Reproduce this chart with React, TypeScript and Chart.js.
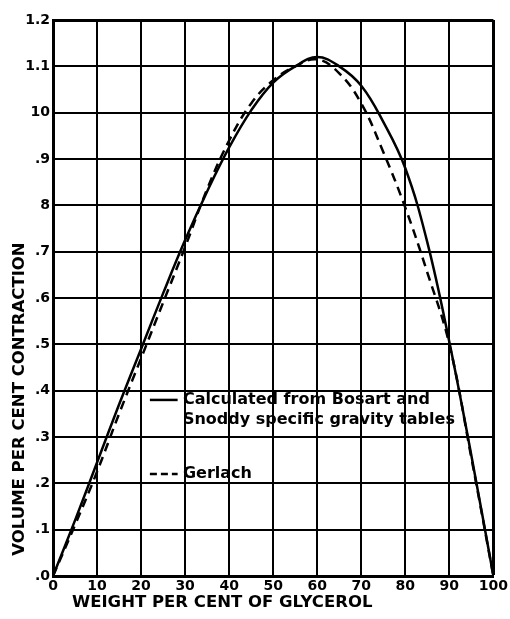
import React, { useEffect, useRef } from "react";
import { Chart, registerables } from "chart.js";

Chart.register(...registerables);

const weights = [0, 5, 10, 15, 20, 25, 30, 35, 40, 45, 50, 55, 60, 65, 70, 75, 80, 85, 90, 95, 100];
const bosartSnoddy = [0, 0.12, 0.245, 0.37, 0.49, 0.61, 0.725, 0.83, 0.925, 1.005, 1.065, 1.1, 1.12, 1.1, 1.058, 0.98, 0.88, 0.72, 0.505, 0.26, 0];
const gerlach = [0, 0.11, 0.225, 0.35, 0.47, 0.59, 0.71, 0.835, 0.94, 1.02, 1.07, 1.1, 1.115, 1.085, 1.02, 0.915, 0.795, 0.655, 0.5, 0.255, 0];

const yTickValues = [0, 0.1, 0.2, 0.3, 0.4, 0.5, 0.6, 0.7, 0.8, 0.9, 1.0, 1.1, 1.2];
const yTickLabels = [".0", ".1", ".2", ".3", ".4", ".5", ".6", ".7", "8", ".9", "10", "1.1", "1.2"];
const xTickValues = [0, 10, 20, 30, 40, 50, 60, 70, 80, 90, 100];
const xTickLabels = ["0", "10", "20", "30", "40", "50", "60", "70", "80", "90", "100"];

const xTitle = "WEIGHT PER CENT OF GLYCEROL";
const yTitle = "VOLUME PER CENT CONTRACTION";
const legendSolidLines = ["Calculated from Bosart and", "Snoddy specific gravity tables"];
const legendDashed = "Gerlach";

const FONT = "'DejaVu Sans', sans-serif";

const overlayPlugin = {
  id: "overlay",
  afterDraw(chart: any) {
    const ctx = chart.ctx;
    const xs = chart.scales.x;
    const ys = chart.scales.y;
    ctx.save();
    ctx.fillStyle = "#000";
    ctx.strokeStyle = "#000";
    // legend
    const lx0 = xs.getPixelForValue(22);
    const lx1 = xs.getPixelForValue(28.3);
    const tx = xs.getPixelForValue(29.5);
    const y1 = ys.getPixelForValue(0.38);
    const y3 = ys.getPixelForValue(0.22);
    ctx.lineWidth = 2.5;
    ctx.setLineDash([]);
    ctx.beginPath();
    ctx.moveTo(lx0, y1);
    ctx.lineTo(lx1, y1);
    ctx.stroke();
    ctx.setLineDash([7, 4]);
    ctx.beginPath();
    ctx.moveTo(lx0, y3);
    ctx.lineTo(lx1, y3);
    ctx.stroke();
    ctx.setLineDash([]);
    ctx.font = "bold 16px " + FONT;
    ctx.textBaseline = "middle";
    ctx.textAlign = "left";
    ctx.fillText(legendSolidLines[0], tx, y1);
    ctx.fillText(legendSolidLines[1], tx, y1 + 20);
    ctx.fillText(legendDashed, tx, y3);
    // axis titles
    ctx.font = "bold 16.5px " + FONT;
    ctx.textAlign = "left";
    ctx.textBaseline = "middle";
    ctx.fillText(xTitle, 72, 603);
    ctx.translate(20, 399);
    ctx.rotate(-Math.PI / 2);
    ctx.textAlign = "center";
    ctx.fillText(yTitle, 0, 0);
    ctx.restore();
  },
};

export default function App() {
  const ref = useRef<HTMLCanvasElement>(null);
  useEffect(() => {
    if (!ref.current) return;
    const chart = new Chart(ref.current, {
      type: "line",
      data: {
        datasets: [
          {
            label: "Calculated from Bosart and Snoddy specific gravity tables",
            data: weights.map((w, i) => ({ x: w, y: bosartSnoddy[i] })),
            borderColor: "#000",
            borderWidth: 2.5,
            pointRadius: 0,
            tension: 0.4,
            fill: false,
          },
          {
            label: "Gerlach",
            data: weights.map((w, i) => ({ x: w, y: gerlach[i] })),
            borderColor: "#000",
            borderWidth: 2.5,
            borderDash: [9, 6],
            pointRadius: 0,
            tension: 0.4,
            fill: false,
          },
        ],
      },
      options: {
        responsive: false,
        animation: false,
        layout: { padding: { left: 0, top: 20, right: 12, bottom: 0 } },
        plugins: { legend: { display: false }, tooltip: { enabled: false } },
        scales: {
          x: {
            type: "linear",
            min: 0,
            max: 100,
            afterBuildTicks: (s: any) => {
              s.ticks = xTickValues.map((v) => ({ value: v }));
            },
            afterFit: (s: any) => {
              s.height = 43;
            },
            ticks: {
              color: "#000",
              font: { family: FONT, size: 14, weight: "bold" },
              padding: 2,
              maxRotation: 0,
              autoSkip: false,
              callback: (v: any) => {
                const i = xTickValues.indexOf(Number(v));
                return i >= 0 ? xTickLabels[i] : "";
              },
            },
            grid: {
              color: "#000",
              lineWidth: (c: any) => (c.tick && c.tick.value === 100 ? 3 : 2),
              drawTicks: false,
            },
            border: { display: true, color: "#000", width: 3 },
          },
          y: {
            type: "linear",
            min: 0,
            max: 1.2,
            afterBuildTicks: (s: any) => {
              s.ticks = yTickValues.map((v) => ({ value: v }));
            },
            afterFit: (s: any) => {
              s.width = 53;
            },
            ticks: {
              color: "#000",
              font: { family: FONT, size: 14, weight: "bold" },
              padding: 3,
              autoSkip: false,
              callback: (v: any) => {
                const n = Number(v);
                const i = yTickValues.findIndex((t) => Math.abs(t - n) < 1e-6);
                return i >= 0 ? yTickLabels[i] : "";
              },
            },
            grid: {
              color: "#000",
              lineWidth: (c: any) => (c.tick && Math.abs(c.tick.value - 1.2) < 1e-6 ? 3 : 2),
              drawTicks: false,
            },
            border: { display: true, color: "#000", width: 3 },
          },
        },
      },
      plugins: [overlayPlugin],
    });
    return () => chart.destroy();
  }, []);
  return (
    <div style={{ position: "fixed", left: 0, top: 0, width: 510, height: 619, background: "#fff" }}>
      <canvas ref={ref} width={510} height={619} style={{ display: "block" }} />
    </div>
  );
}
